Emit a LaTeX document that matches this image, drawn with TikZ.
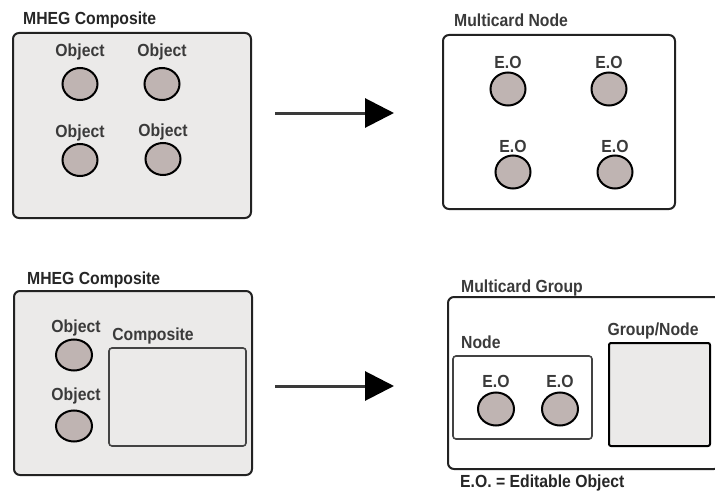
\documentclass[tikz,border=0pt]{standalone}
\usepackage{fontspec}
\setmainfont{Liberation Sans}[FakeStretch=0.9]
\usetikzlibrary{shapes.geometric,arrows.meta}
\definecolor{boxfill}{HTML}{EBEAE9}
\definecolor{dotfill}{HTML}{BFB4B2}
\definecolor{txt}{HTML}{3A3A3A}
\definecolor{edge}{HTML}{222222}
\tikzset{
  outerbox/.style={draw=edge, line width=2pt, rounded corners=6pt, inner sep=0pt},
  innerbox/.style={draw=edge!85, line width=1.6pt, rounded corners=3pt, inner sep=0pt},
  dot/.style={ellipse, draw=black, line width=2pt, fill=dotfill, minimum width=35pt, minimum height=32pt, inner sep=0pt},
  lbl/.style={font=\fontsize{17.5}{18}\selectfont\bfseries, text=txt, inner sep=0pt, anchor=base},
  ttl/.style={lbl, text=black!85, anchor=base west},
  bigarrow/.style={line width=3pt, draw=txt, -{Triangle[length=29pt,width=29pt,fill=black,color=black]}}
}
\begin{document}
\begin{tikzpicture}[x=1pt,y=-1pt]
\useasboundingbox (0,0) rectangle (715,495);
% ---- top left ----
\node[outerbox, fill=boxfill, minimum width=238pt, minimum height=185pt] (tl) at (132,125.5) {};
\node[ttl] (tlt) at (23,25) {MHEG Composite};
\node[dot] (o1) at (80,84) {};
\node[dot] (o2) at (162,84) {};
\node[dot] (o3) at (80,160) {};
\node[dot] (o4) at (163,159) {};
\node[lbl] (o1l) at (80,57) {Object};
\node[lbl] (o2l) at (162,57) {Object};
\node[lbl] (o3l) at (80,137) {Object};
\node[lbl] (o4l) at (163,136) {Object};
% ---- top right ----
\node[outerbox, fill=white, minimum width=232pt, minimum height=174pt] (tr) at (559,122) {};
\node[ttl, text=txt] (trt) at (454,27) {Multicard Node};
\node[dot, minimum height=33pt] (e1) at (508,89) {};
\node[dot, minimum height=33pt] (e2) at (609,89) {};
\node[dot, minimum height=33pt] (e3) at (513,172) {};
\node[dot, minimum height=33pt] (e4) at (615,172) {};
\node[lbl] (e1l) at (508,69) {E.O};
\node[lbl] (e2l) at (609,69) {E.O};
\node[lbl] (e3l) at (513,152) {E.O};
\node[lbl] (e4l) at (615,152) {E.O};
% ---- arrows ----
\coordinate (a1s) at (275,113);
\coordinate (a1e) at (394,113);
\draw[bigarrow] (a1s) -- (a1e);
\coordinate (a2s) at (275,386);
\coordinate (a2e) at (394,386);
\draw[bigarrow] (a2s) -- (a2e);
% ---- bottom left ----
\node[outerbox, fill=boxfill, minimum width=238pt, minimum height=184pt] (bl) at (133,383) {};
\node[ttl] (blt) at (27,284) {MHEG Composite};
\node[dot, minimum width=36pt, minimum height=31pt] (b1) at (74,355) {};
\node[dot, minimum width=36pt, minimum height=31pt] (b2) at (74,426) {};
\node[lbl] (b1l) at (76,332) {Object};
\node[lbl] (b2l) at (76,400) {Object};
\node[innerbox, fill=boxfill, minimum width=137pt, minimum height=98pt] (comp) at (177.5,397) {};
\node[lbl] (compl) at (153,340) {Composite};
% ---- bottom right ----
\node[outerbox, fill=white, minimum width=272pt, minimum height=172pt] (br) at (584,383) {};
\node[ttl, text=txt] (brt) at (461,292) {Multicard Group};
\node[innerbox, fill=white, minimum width=139pt, minimum height=83pt] (nodebox) at (522.5,397.5) {};
\node[ttl, text=txt] (nodel) at (461,348) {Node};
\node[dot, minimum width=36pt, minimum height=33pt] (g1) at (496,409) {};
\node[dot, minimum width=36pt, minimum height=33pt] (g2) at (560,409) {};
\node[lbl] (g1l) at (496,387) {E.O};
\node[lbl] (g2l) at (560,387) {E.O};
\node[draw=black, line width=2pt, rounded corners=2pt, fill=boxfill, minimum width=101pt, minimum height=103pt, inner sep=0pt] (gn) at (659.5,394.5) {};
\node[lbl] (gnl) at (653,335) {Group/Node};
\node[ttl] (foot) at (460,487) {E.O. = Editable Object};
\end{tikzpicture}
\end{document}
